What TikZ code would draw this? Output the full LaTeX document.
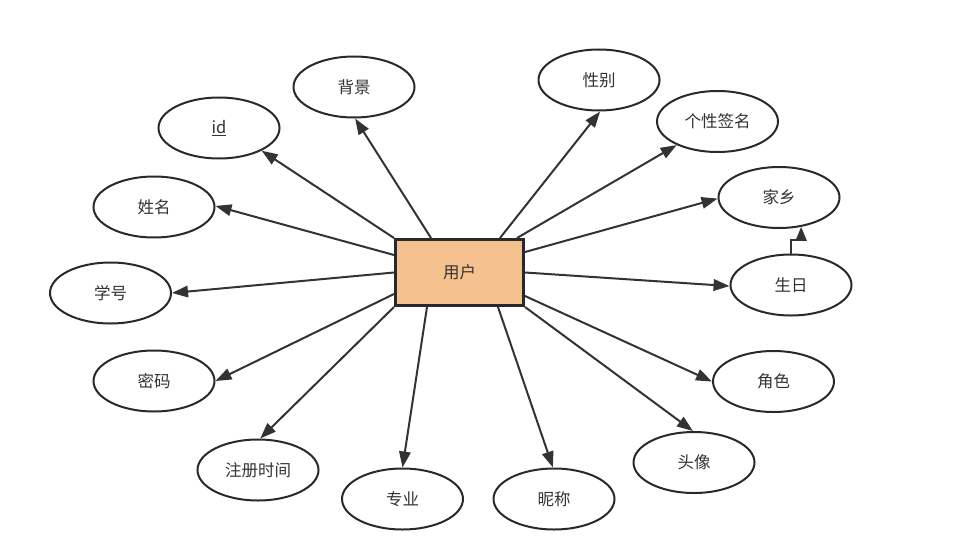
\documentclass[tikz,border=0pt]{standalone}
\usepackage{fontspec}
\setmainfont{Noto Sans CJK SC}
\usetikzlibrary{arrows.meta,shapes.geometric,calc}
\definecolor{linec}{HTML}{333333}
\definecolor{edgec}{HTML}{262A30}
\definecolor{fillc}{HTML}{F5C28F}
\definecolor{txt}{HTML}{333333}
\begin{document}
\begin{tikzpicture}[x=1pt,y=-1pt,
  attr/.style={ellipse, draw=edgec, line width=2pt, minimum width=121pt, minimum height=61pt, inner sep=0pt, text=txt, font=\fontsize{16.5pt}{19pt}\selectfont},
  ent/.style={rectangle, draw=edgec, line width=3pt, fill=fillc, minimum width=128pt, minimum height=66pt, inner sep=0pt, text=txt, font=\fontsize{16.5pt}{19pt}\selectfont},
  arr/.style={draw=linec, line width=2pt, -{Triangle[length=16pt,width=11.5pt]}}]
\useasboundingbox (0,0) rectangle (957,559);
\node[ent] (u) at (459.5,272.5) {用户};
\node[attr] (id) at (219,128) {\underline{id}};
\node[attr] (bj) at (354,87) {背景};
\node[attr] (xb) at (599,80) {性别};
\node[attr] (gx) at (717.5,121.5) {个性签名};
\node[attr] (jx) at (779,197.5) {家乡};
\node[attr] (sr) at (791,285) {生日};
\node[attr] (js) at (773.5,381.5) {角色};
\node[attr] (tx) at (694,462.5) {头像};
\node[attr] (nc) at (554,499) {昵称};
\node[attr] (zy) at (402.5,499) {专业};
\node[attr] (zc) at (258,470) {注册时间};
\node[attr] (mm) at (154,381) {密码};
\node[attr] (xh) at (110.5,293) {学号};
\node[attr] (xm) at (154,207) {姓名};
\draw[arr] (u.north west) -- (id.-28.6);
\draw[arr] ([xshift=37pt]u.north west) -- (bj.-88);
\draw[arr] ([xshift=106pt]u.north west) -- (xb.-88);
\draw[arr] ([xshift=-8pt]u.north east) -- (gx.210.4);
\draw[arr] ([yshift=-14pt]u.north east) -- (jx.181.4);
\draw[arr] (u.east) -- (sr.181);
\draw[arr] ([yshift=11pt]u.south east) -- (js.180);
\draw[arr] (u.south east) -- (tx.92);
\draw[arr] ([xshift=-27pt]u.south east) -- (nc.92);
\draw[arr] ([xshift=33pt]u.south west) -- (zy.90);
\draw[arr] (u.south west) -- (zc.86.3);
\draw[arr] ([yshift=13pt]u.south west) -- (mm.0);
\draw[arr] (u.west) -- (xh.0);
\draw[arr] ([yshift=-17pt]u.north west) -- (xm.1);
\draw[arr,-{Triangle[length=14pt,width=11pt]}] (sr.north) -- ++(0,-14) -| (jx.-53.2);
\end{tikzpicture}
\end{document}
